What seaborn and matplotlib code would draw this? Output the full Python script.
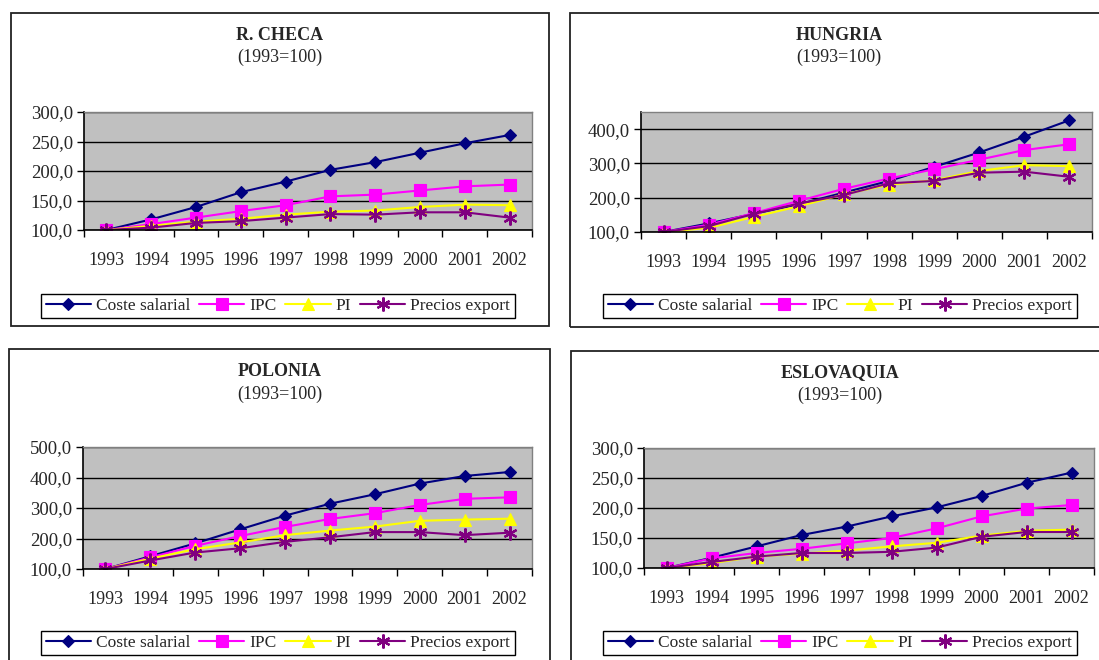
import numpy as np
import pandas as pd
import seaborn as sns
import matplotlib.pyplot as plt
from matplotlib.patches import Rectangle
from matplotlib.ticker import FixedLocator, FuncFormatter

sns.set_theme(style="white")
plt.rcParams['font.family'] = ['Liberation Serif', 'DejaVu Serif']

years = [1993, 1994, 1995, 1996, 1997, 1998, 1999, 2000, 2001, 2002]
series_names = ["Coste salarial", "IPC", "PI", "Precios export"]

# R. CHECA
checa_coste = [100, 118, 139, 164, 182, 202, 215, 231, 247, 261]
checa_ipc = [100, 110, 121, 132, 142, 157, 160, 167, 174, 177]
checa_pi = [100, 107, 114, 119, 126, 131, 133, 139, 143, 142]
checa_export = [100, 104, 112, 115, 121, 127, 126, 130, 130, 121]

# HUNGRIA
hungria_coste = [100, 125, 153, 181, 215, 249, 290, 332, 378, 426]
hungria_ipc = [100, 121, 155, 191, 226, 256, 283, 311, 339, 356]
hungria_pi = [100, 112, 144, 175, 210, 238, 251, 278, 295, 292]
hungria_export = [100, 117, 153, 183, 208, 242, 249, 273, 276, 261]

# POLONIA
polonia_coste = [100, 142, 184, 230, 275, 314, 345, 380, 405, 418]
polonia_ipc = [100, 138, 176, 208, 238, 264, 283, 310, 330, 335]
polonia_pi = [100, 134, 165, 187, 211, 226, 239, 258, 262, 265]
polonia_export = [100, 128, 154, 168, 189, 204, 221, 221, 211, 219]

# ESLOVAQUIA
eslovaquia_coste = [100, 117, 136, 155, 169, 186, 201, 220, 242, 259]
eslovaquia_ipc = [100, 116, 125, 132, 141, 150, 166, 186, 199, 205]
eslovaquia_pi = [100, 108, 119, 124, 129, 136, 142, 154, 162, 164]
eslovaquia_export = [100, 110, 119, 125, 125, 127, 134, 152, 160, 160]

titles = ["R. CHECA", "HUNGRIA", "POLONIA", "ESLOVAQUIA"]
subtitle = "(1993=100)"

W, H = 1099, 660
fig = plt.figure(figsize=(W / 100, H / 100), dpi=100)
fig.patch.set_facecolor("white")

def fx(px):
    return px / W

def fy(py):
    return 1 - py / H

colors = ["#000080", "#FF00FF", "#FFFF00", "#800080"]
markers = ["D", "s", "^", (6, 2, 0)]
msizes = [6.5, 8.5, 8, 10]

panels = [
    dict(title=titles[0], data=[checa_coste, checa_ipc, checa_pi, checa_export],
         box=(11, 13, 549, 326), ax=(84, 112, 532, 230), ylim=(100, 300), step=50,
         tx=280, ty=35, leg=(278, 306)),
    dict(title=titles[1], data=[hungria_coste, hungria_ipc, hungria_pi, hungria_export],
         box=(570, 13, 1115, 327), ax=(641, 112, 1092, 232), ylim=(100, 450), step=100,
         tx=839, ty=35, leg=(840, 306)),
    dict(title=titles[2], data=[polonia_coste, polonia_ipc, polonia_pi, polonia_export],
         box=(9, 349, 550, 675), ax=(83, 447, 532, 569), ylim=(100, 500), step=100,
         tx=280, ty=372, leg=(278, 643)),
    dict(title=titles[3], data=[eslovaquia_coste, eslovaquia_ipc, eslovaquia_pi, eslovaquia_export],
         box=(571, 351, 1115, 675), ax=(644, 448, 1094, 568), ylim=(100, 300), step=50,
         tx=840, ty=373, leg=(840, 643)),
]

for p in panels:
    x0, y0, x1, y1 = p["box"]
    fig.patches.append(Rectangle((fx(x0), fy(y1)), fx(x1) - fx(x0), fy(y0) - fy(y1),
                                 transform=fig.transFigure, fill=False,
                                 edgecolor="#222222", linewidth=1.3, zorder=0))
    fig.text(fx(p["tx"]), fy(p["ty"]), p["title"], ha="center", va="center",
             fontsize=13, fontweight="bold")
    fig.text(fx(p["tx"]), fy(p["ty"] + 22), subtitle, ha="center", va="center",
             fontsize=13)

    a0, b0, a1, b1 = p["ax"]
    ax = fig.add_axes([fx(a0), fy(b1), fx(a1) - fx(a0), fy(b0) - fy(b1)])
    ax.set_facecolor("#C0C0C0")

    df = pd.DataFrame({"year": np.repeat(years, 4),
                       "serie": series_names * len(years),
                       "valor": np.array(p["data"]).T.ravel()})
    for name, col, mk, ms in zip(series_names, colors, markers, msizes):
        sub = df[df["serie"] == name]
        sns.lineplot(data=sub, x="year", y="valor", ax=ax, color=col, marker=mk,
                     markersize=ms, markeredgecolor=col, markeredgewidth=1.6 if mk == (6, 2, 0) else 0.8,
                     linewidth=1.5, label=name, legend=False)

    lo, hi = p["ylim"]
    ax.set_ylim(lo, hi)
    ax.set_xlim(years[0] - 0.5, years[-1] + 0.5)
    ax.yaxis.set_major_locator(FixedLocator(np.arange(lo, hi + 1, p["step"])))
    ax.yaxis.set_major_formatter(FuncFormatter(lambda v, pos: f"{v:.1f}".replace(".", ",")))
    ax.yaxis.grid(True, color="black", linewidth=1)
    ax.xaxis.grid(False)
    ax.set_axisbelow(True)
    ax.xaxis.set_major_locator(FixedLocator(np.arange(years[0] - 0.5, years[-1] + 1, 1)))
    ax.xaxis.set_major_formatter(FuncFormatter(lambda v, pos: ""))
    ax.xaxis.set_minor_locator(FixedLocator(years))
    ax.set_xticklabels([str(y) for y in years], minor=True)
    ax.tick_params(axis="x", which="major", direction="out", length=5, width=1, color="black", bottom=True)
    ax.tick_params(axis="x", which="minor", length=0, pad=16, labelsize=13)
    ax.tick_params(axis="y", direction="out", length=5, width=1, color="black", left=True,
                   pad=3, labelsize=13.5)
    ax.set_xlabel("")
    ax.set_ylabel("")
    for s in ["left", "bottom"]:
        ax.spines[s].set_color("black")
        ax.spines[s].set_linewidth(1.2)
    for s in ["top", "right"]:
        ax.spines[s].set_color("#808080")
        ax.spines[s].set_linewidth(1)

    h, l = ax.get_legend_handles_labels()
    leg = ax.legend(h, l, loc="center", bbox_to_anchor=(fx(p["leg"][0]), fy(p["leg"][1])),
                    bbox_transform=fig.transFigure, ncol=4, fontsize=12.5, frameon=True,
                    fancybox=False, edgecolor="black", framealpha=1, handlelength=2.6,
                    handletextpad=0.3, columnspacing=0.5, borderpad=0.25, borderaxespad=0)
    leg.get_frame().set_linewidth(1)

fig.savefig("out.png", dpi=100, facecolor="white")
